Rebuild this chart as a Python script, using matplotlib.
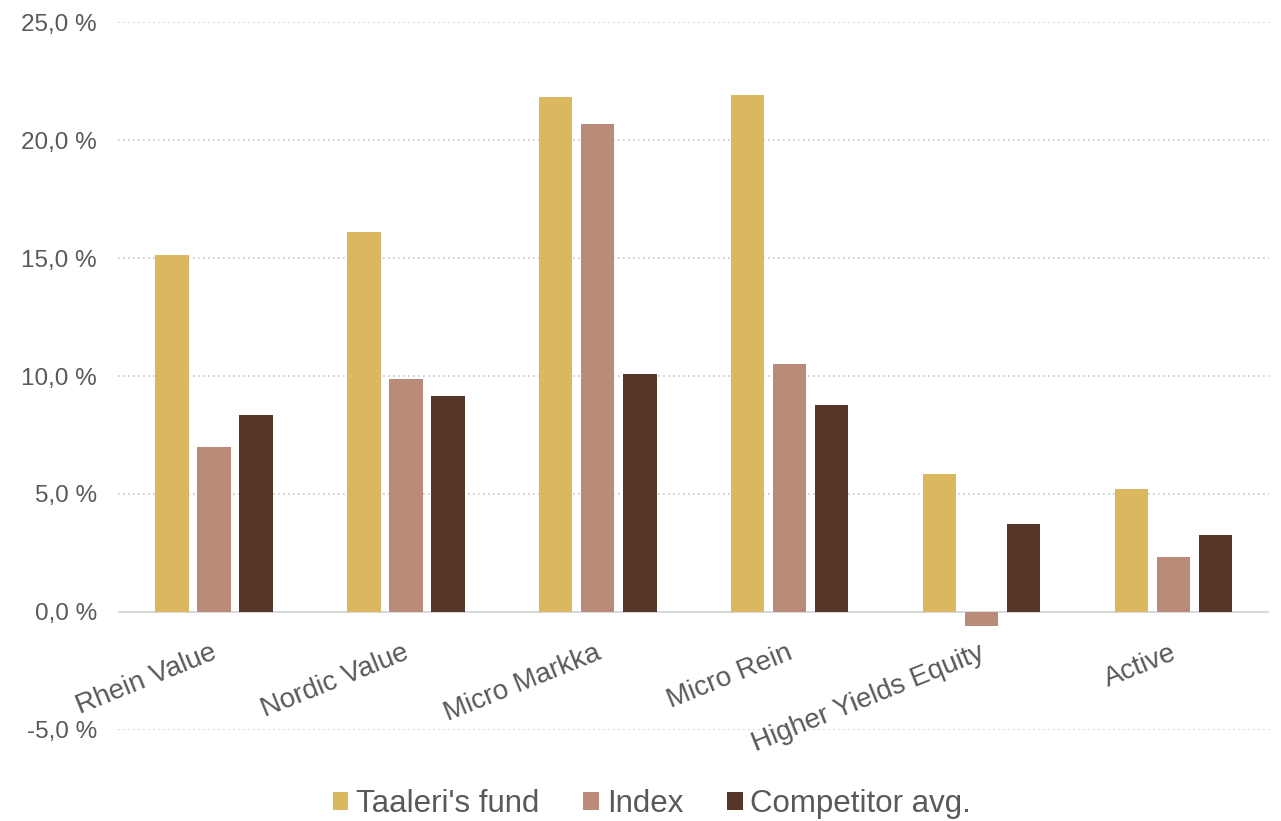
import matplotlib
matplotlib.use("Agg")
import matplotlib.pyplot as plt
import numpy as np
from matplotlib.patches import Patch

categories = ["Rhein Value", "Nordic Value", "Micro Markka", "Micro Rein",
              "Higher Yields Equity", "Active"]
series_names = ["Taaleri's fund", "Index", "Competitor avg."]
fund = [15.13, 16.10, 21.82, 21.90, 5.85, 5.21]
index = [6.99, 9.87, 20.68, 10.50, -0.59, 2.33]
competitor = [8.35, 9.15, 10.08, 8.77, 3.73, 3.26]
colors = ["#DBB85F", "#B98B78", "#553627"]
yticks = [-5, 0, 5, 10, 15, 20, 25]

plt.rcParams['font.family'] = ['Liberation Sans', 'DejaVu Sans']
text_color = "#595959"

fig = plt.figure(figsize=(12.81, 8.21), dpi=100)
ax = fig.add_axes([0.092, 0.111, 0.899, 0.862])

x = np.arange(len(categories))
offs = 0.219
width = 0.175
for i, (vals, c) in enumerate(zip([fund, index, competitor], colors)):
    ax.bar(x + (i - 1) * offs, vals, width, color=c, zorder=3)

ax.set_xlim(-0.5, len(categories) - 0.5)
ax.set_ylim(-5, 25)
ax.set_yticks(yticks)
ax.set_yticklabels([f"{v:.1f} %".replace(".", ",") for v in yticks],
                   fontsize=17.5, color=text_color)
for v in yticks:
    if v != 0:
        ax.axhline(v, color="#C8C8C8", linestyle=(0, (1, 2)), linewidth=1.2, zorder=1)
ax.axhline(0, color="#D9D9D9", linewidth=1.5, zorder=2)

for s in ax.spines.values():
    s.set_visible(False)
ax.tick_params(axis='y', length=0, pad=15)
ax.tick_params(axis='x', length=0, pad=0)
ax.set_xticks([])

for xi, lab in zip(x, categories):
    ax.annotate(lab, xy=(xi, 0), xycoords='data', xytext=(2, -40),
                textcoords='offset pixels', rotation=22, ha='right', va='center',
                rotation_mode='anchor', fontsize=20, color=text_color)

handles = [Patch(facecolor=c, edgecolor='none') for c in colors]
fig.legend(handles, series_names, loc='center', bbox_to_anchor=(0.509, 0.021),
           ncol=3, frameon=False, fontsize=22.5, labelcolor=text_color,
           handlelength=0.5, handleheight=0.5, handletextpad=0.25,
           columnspacing=1.4)

fig.savefig("out.png", dpi=100)
